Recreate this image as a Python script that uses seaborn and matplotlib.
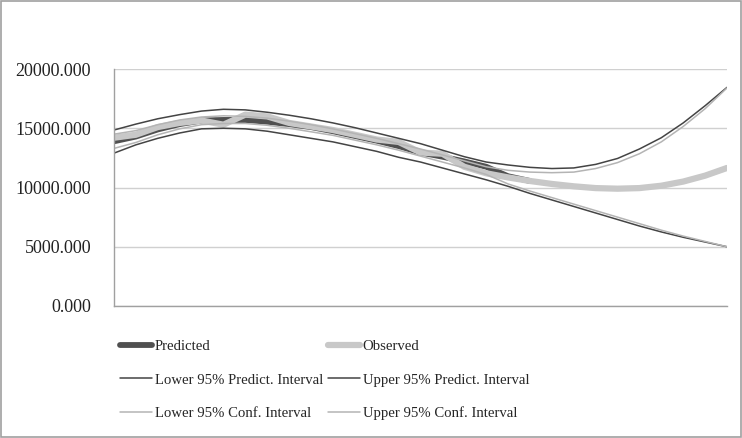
import matplotlib
matplotlib.use("Agg")
import matplotlib.pyplot as plt
import matplotlib.patches as patches
import numpy as np
import seaborn as sns

# 29 points along the category axis, tick every 4 categories
idx = np.arange(29)

predicted = [13900, 14300, 14900, 15350, 15650, 15700, 15700, 15550, 15350, 15100,
             14750, 14350, 13950, 13500, 12950, 12600, 12200, 11750, 10950, 10550]
observed = [14200, 14450, 15100, 15450, 15650, 15300, 16150, 16000, 15450, 15150,
            14850, 14450, 14050, 13850, 12950, 12850, 11750, 11200, 10850, 10550,
            10300, 10100, 9950, 9900, 9950, 10150, 10500, 11000, 11650]
upper_pi = [14850, 15350, 15800, 16150, 16450, 16600, 16550, 16350, 16100, 15800,
            15450, 15050, 14600, 14150, 13700, 13150, 12600, 12150, 11900, 11700,
            11600, 11650, 11950, 12450, 13250, 14200, 15450, 16900, 18450]
lower_pi = [12900, 13600, 14150, 14600, 14950, 15000, 14950, 14750, 14450, 14150,
            13850, 13450, 13050, 12550, 12150, 11650, 11150, 10650, 10100, 9500,
            8950, 8400, 7850, 7300, 6750, 6250, 5800, 5400, 5000]
upper_ci = [14500, 14800, 15300, 15700, 15950, 16050, 16000, 15850, 15600, 15300,
            14950, 14550, 14150, 13700, 13250, 12750, 12250, 11750, 11450, 11300,
            11250, 11300, 11600, 12100, 12850, 13850, 15150, 16650, 18400]
lower_ci = [13300, 13800, 14450, 14950, 15300, 15400, 15400, 15250, 15000, 14700,
            14400, 14000, 13600, 13150, 12650, 12150, 11650, 11100, 10300, 9700,
            9150, 8600, 8050, 7500, 6950, 6400, 5900, 5450, 5000]

sns.set_style("white")
plt.rcParams['font.family'] = ['Liberation Serif', 'DejaVu Serif']

fig = plt.figure(figsize=(7.42, 4.38), dpi=100)
ax = fig.add_axes([114 / 742, 1 - 306 / 438, (727 - 114) / 742, (306 - 69) / 438])

# thick series
sns.lineplot(x=idx[:len(predicted)], y=predicted, ax=ax, color='#505050',
             linewidth=4.2, label='Predicted')
sns.lineplot(x=idx, y=observed, ax=ax, color='#c8c8c8', linewidth=4.5, label='Observed')
# intervals
sns.lineplot(x=idx, y=lower_pi, ax=ax, color='#444444', linewidth=1.1,
             label='Lower 95% Predict. Interval')
sns.lineplot(x=idx, y=upper_pi, ax=ax, color='#444444', linewidth=1.1,
             label='Upper 95% Predict. Interval')
sns.lineplot(x=idx, y=lower_ci, ax=ax, color='#b4b4b4', linewidth=1.1,
             label='Lower 95% Conf. Interval')
sns.lineplot(x=idx, y=upper_ci, ax=ax, color='#b4b4b4', linewidth=1.1,
             label='Upper 95% Conf. Interval')

ax.set_xlim(0, 28)
ax.set_ylim(0, 20000)
ax.set_yticks(np.arange(0, 20001, 5000))
ax.set_yticklabels([f"{v:.3f}" for v in np.arange(0, 20001, 5000)], fontsize=13, color='#222222')
ax.set_xticks(np.arange(0, 29, 4))
ax.set_xticklabels([])
ax.grid(axis='y', color='#d0d0d0', linewidth=1)
ax.set_axisbelow(True)
for s in ['top', 'right']:
    ax.spines[s].set_visible(False)
for s in ['left', 'bottom']:
    ax.spines[s].set_color('#a0a0a0')
    ax.spines[s].set_linewidth(1)
ax.tick_params(axis='y', length=5, color='#a0a0a0', pad=11.5)
ax.tick_params(axis='x', length=6, color='#a0a0a0', direction='out')
ax.set_xlabel('')
ax.set_ylabel('')

# legend: row-major order in two columns
handles, labels = ax.get_legend_handles_labels()
ax.get_legend().remove()
order = [0, 2, 4, 1, 3, 5]
fig.legend([handles[i] for i in order], [labels[i] for i in order],
           loc='upper left', bbox_to_anchor=(120 / 742, 1 - 340 / 438), ncol=2,
           frameon=False, fontsize=10.6, handlelength=2.2, handletextpad=0.15,
           columnspacing=0.34, labelspacing=1.36, borderpad=0, borderaxespad=0)

# chart area border
fig.patches.append(patches.Rectangle((0.001, 0.002), 0.997, 0.996, transform=fig.transFigure,
                                     fill=False, edgecolor='#a0a0a0', linewidth=1.2))

fig.savefig('out.png', dpi=100)
